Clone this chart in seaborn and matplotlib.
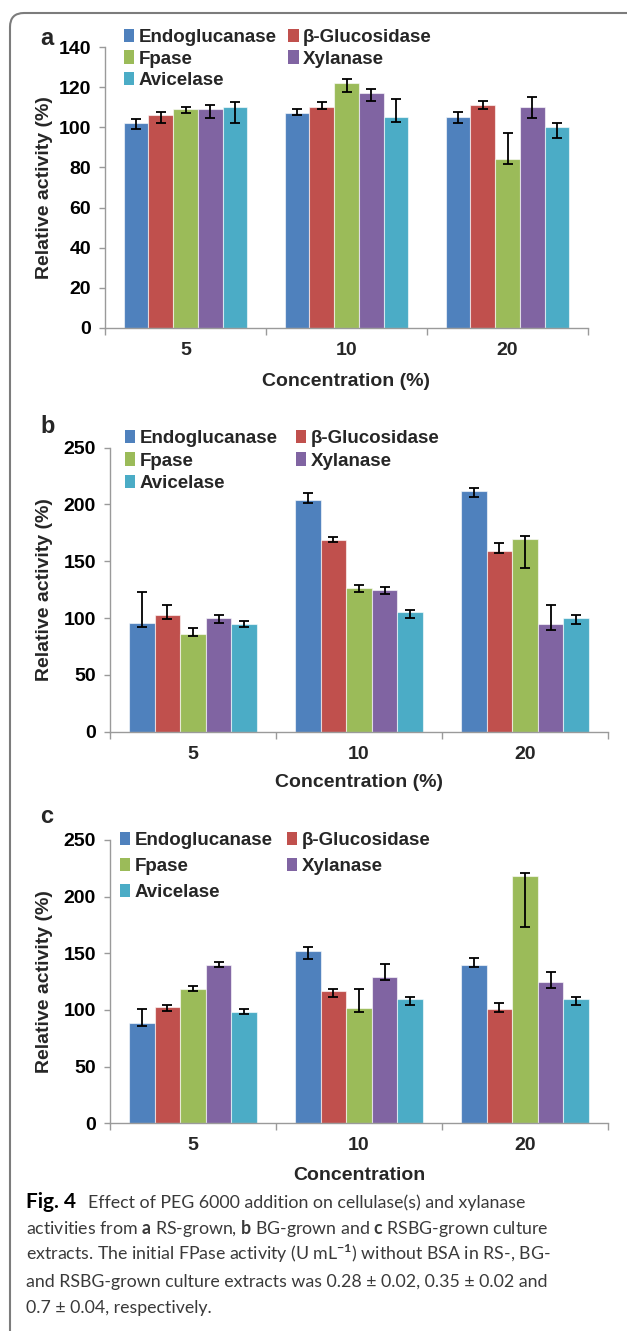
import matplotlib
matplotlib.use("Agg")
import matplotlib.pyplot as plt
from matplotlib.patches import FancyBboxPatch, Patch
from matplotlib.transforms import IdentityTransform
import seaborn as sns
import pandas as pd

enzymes = ["Endoglucanase", "β-Glucosidase", "Fpase", "Xylanase", "Avicelase"]
concs = ["5", "10", "20"]
colors = ["#4F81BD", "#C0504D", "#9BBB59", "#8064A2", "#4BACC6"]

# one row per enzyme, one column per concentration
# bar value, top end and bottom end of the error bar
a_val = [[102.0, 106.9, 105.0], [106.1, 110.3, 111.0], [109.0, 121.9, 84.0], [109.0, 117.3, 110.3], [110.3, 105.0, 100.0]]
a_top = [[104.1, 108.9, 107.4], [107.4, 112.5, 113.1], [110.3, 124.1, 97.0], [111.1, 119.2, 115.3], [112.5, 114.0, 102.3]]
a_bot = [[99.0, 106.0, 102.0], [102.0, 109.0, 109.0], [107.0, 117.8, 81.7], [104.8, 113.1, 104.8], [102.0, 102.8, 94.7]]

b_val = [[95.4, 203.9, 211.8], [102.7, 168.7, 159.0], [85.7, 126.7, 169.6], [99.8, 125.0, 94.8], [94.8, 105.0, 99.8]]
b_top = [[122.6, 209.8, 214.2], [111.2, 171.3, 166.4], [91.0, 129.4, 172.2], [102.4, 127.3, 111.2], [97.1, 107.4, 102.4]]
b_bot = [[92.4, 201.6, 206.6], [99.2, 167.0, 157.0], [84.2, 123.0, 144.4], [95.4, 121.5, 89.8], [91.8, 100.3, 95.0]]

c_val = [[88.8, 152.3, 140.0], [102.6, 116.5, 100.6], [118.8, 101.5, 218.2], [140.0, 129.4, 124.7], [98.5, 109.4, 109.4]]
c_top = [[100.9, 155.3, 145.6], [104.7, 118.8, 105.9], [121.2, 118.8, 220.6], [142.0, 140.6, 133.8], [100.9, 111.8, 111.8]]
c_bot = [[85.9, 144.7, 137.6], [98.8, 111.8, 97.9], [117.0, 98.2, 172.9], [137.9, 126.2, 119.4], [96.2, 104.7, 104.7]]

fig_label = "Fig. 4"
caption = [
    "Effect of PEG 6000 addition on cellulase(s) and xylanase",
    r"activities from $\mathbf{a}$ RS-grown, $\mathbf{b}$ BG-grown and $\mathbf{c}$ RSBG-grown culture",
    r"extracts. The initial FPase activity (U mL$^{-1}$) without BSA in RS-, BG-",
    "and RSBG-grown culture extracts was 0.28 ± 0.02, 0.35 ± 0.02 and",
    "0.7 ± 0.04, respectively.",
]

sns.set_style("white")
plt.rcParams["font.family"] = ["Liberation Sans", "DejaVu Sans"]
plt.rcParams["font.weight"] = "bold"
plt.rcParams["axes.labelweight"] = "bold"
plt.rcParams["mathtext.fontset"] = "custom"
plt.rcParams["mathtext.rm"] = "Lato"
plt.rcParams["mathtext.bf"] = "Lato:bold"

W, H = 627, 1331
fig = plt.figure(figsize=(W / 100, H / 100), dpi=100)

def frac(x0, ytop, x1, ybot):
    return [x0 / W, 1 - ybot / H, (x1 - x0) / W, (ybot - ytop) / H]

panels = [
    dict(letter="a", val=a_val, top=a_top, bot=a_bot, rect=frac(105, 47, 588, 328), ymax=140, step=20,
         xlabel="Concentration (%)", xl_y=-0.159, yl_x=-0.108, leg=(124, 29, 0.23, 0.6), let=(40, 45)),
    dict(letter="b", val=b_val, top=b_top, bot=b_bot, rect=frac(110, 447.7, 608, 731.7), ymax=250, step=50,
         xlabel="Concentration (%)", xl_y=-0.150, yl_x=-0.114, leg=(125, 430, 0.28, 0.95), let=(40, 433)),
    dict(letter="c", val=c_val, top=c_top, bot=c_bot, rect=frac(110, 840, 608, 1123.3), ymax=250, step=50,
         xlabel="Concentration", xl_y=-0.155, yl_x=-0.114, leg=(120, 832, 0.47, 0.72), let=(40, 823)),
]

grey = "#9a9a9a"
for p in panels:
    ax = fig.add_axes(p["rect"])
    rows = []
    for i, enz in enumerate(enzymes):
        for j, c in enumerate(concs):
            rows.append(dict(enzyme=enz, conc=c, value=p["val"][i][j],
                             top=p["top"][i][j], bot=p["bot"][i][j]))
    df = pd.DataFrame(rows)
    sns.barplot(data=df, x="conc", y="value", hue="enzyme", order=concs, hue_order=enzymes,
                palette=colors, saturation=1, width=0.77, gap=0, errorbar=None,
                legend=False, ax=ax, edgecolor=(1, 1, 1, 0.6), linewidth=0.8)
    bar_groups = list(ax.containers)
    for i, cont in enumerate(bar_groups):
        for j, bar in enumerate(cont.patches):
            x = bar.get_x() + bar.get_width() / 2
            h = bar.get_height()
            lo = max(h - p["bot"][i][j], 0)
            hi = max(p["top"][i][j] - h, 0)
            ax.errorbar(x, h, yerr=[[lo], [hi]], fmt="none", ecolor="black",
                        elinewidth=1.3, capsize=3.5, capthick=1.3, zorder=5)

    ax.set_xlim(-0.5, 2.5)
    ax.set_ylim(0, p["ymax"])
    ax.set_yticks(range(0, p["ymax"] + 1, p["step"]))
    ax.set_xticks([-0.5, 0.5, 1.5, 2.5], minor=True)
    for s in ["top", "right"]:
        ax.spines[s].set_visible(False)
    for s in ["left", "bottom"]:
        ax.spines[s].set_color(grey)
        ax.spines[s].set_linewidth(1.0)
    ax.tick_params(axis="y", which="major", left=True, length=4, width=1, color=grey,
                   pad=6, labelsize=14, labelcolor="black")
    ax.tick_params(axis="x", which="major", bottom=False, length=0, pad=10, labelsize=14)
    ax.tick_params(axis="x", which="minor", bottom=True, length=5, width=1, color=grey)
    ax.set_xlabel(p["xlabel"], fontsize=14, fontweight="bold")
    ax.set_ylabel("Relative activity (%)", fontsize=14, fontweight="bold")
    ax.xaxis.set_label_coords(0.5, p["xl_y"])
    ax.yaxis.set_label_coords(p["yl_x"], 0.5)

    order = [0, 2, 4, 1, 3]
    handles = [Patch(facecolor=colors[k], edgecolor="none", label=enzymes[k]) for k in order]
    lx, ly, lsp, csp = p["leg"]
    ax.legend(handles=handles, ncol=2, loc="upper left",
              bbox_to_anchor=(lx / W, 1 - ly / H), bbox_transform=fig.transFigure,
              frameon=False, borderpad=0, borderaxespad=0, handlelength=0.55,
              handleheight=0.7, handletextpad=0.25, labelspacing=lsp, columnspacing=csp,
              prop=dict(family="Liberation Sans", weight="bold", size=13.5))

    fig.text(p["let"][0] / W, 1 - p["let"][1] / H, p["letter"], fontsize=17,
             fontweight="bold", va="baseline", ha="left")

fig.text(26 / W, 1 - 1208 / H, fig_label, fontsize=15, family="Lato", fontweight="bold",
         color="black", va="baseline", ha="left")
for k, line in enumerate(caption):
    x0 = 88 if k == 0 else 26
    fig.text(x0 / W, 1 - (1208 + k * 26.2) / H, line, fontsize=12.8, family="Lato",
             fontweight="normal", color="#3a3a3a", va="baseline", ha="left")

box = FancyBboxPatch((10, -60), 800, H - 13 + 60, boxstyle="round,pad=0,rounding_size=14",
                     transform=IdentityTransform(), facecolor="none", edgecolor="#7c7c7c",
                     linewidth=1.5)
fig.add_artist(box)

fig.savefig("out.png", dpi=100)
